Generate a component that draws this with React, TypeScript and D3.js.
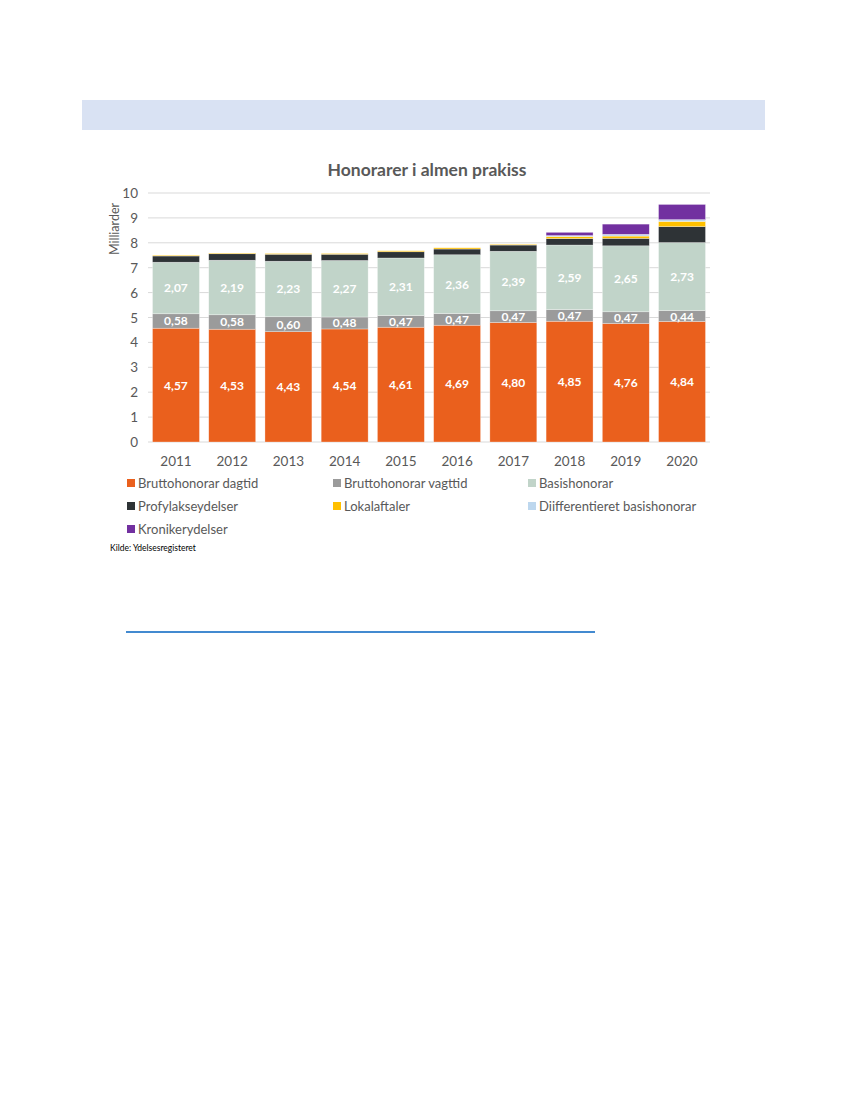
import * as d3 from 'd3'

const years = ['2011', '2012', '2013', '2014', '2015', '2016', '2017', '2018', '2019', '2020']

const dagtid = [4.57, 4.53, 4.43, 4.54, 4.61, 4.69, 4.8, 4.85, 4.76, 4.84]
const vagttid = [0.58, 0.58, 0.6, 0.48, 0.47, 0.47, 0.47, 0.47, 0.47, 0.44]
const basis = [2.07, 2.19, 2.23, 2.27, 2.31, 2.36, 2.39, 2.59, 2.65, 2.73]
const profylakse = [0.25, 0.26, 0.28, 0.25, 0.25, 0.23, 0.25, 0.26, 0.3, 0.64]
const lokalaftaler = [0.03, 0.03, 0.03, 0.03, 0.04, 0.05, 0.03, 0.08, 0.09, 0.21]
const differentieret = [0, 0, 0, 0, 0, 0, 0, 0.04, 0.07, 0.07]
const kroniker = [0, 0, 0, 0, 0, 0, 0, 0.13, 0.41, 0.61]

const yTicks = [0, 1, 2, 3, 4, 5, 6, 7, 8, 9, 10]

const series = [
  { key: 'dagtid', name: 'Bruttohonorar dagtid', values: dagtid, color: '#EA601D', label: true },
  { key: 'vagttid', name: 'Bruttohonorar vagttid', values: vagttid, color: '#9B9B9B', label: true },
  { key: 'basis', name: 'Basishonorar', values: basis, color: '#C1D4C9', label: true },
  { key: 'profylakse', name: 'Profylakseydelser', values: profylakse, color: '#2E3336', label: false },
  { key: 'lokal', name: 'Lokalaftaler', values: lokalaftaler, color: '#FFC000', label: false },
  { key: 'diff', name: 'Diifferentieret basishonorar', values: differentieret, color: '#BDD7EE', label: false },
  { key: 'kroniker', name: 'Kronikerydelser', values: kroniker, color: '#7230A0', label: false },
]

const fmt = (v: number) => v.toFixed(2).replace('.', ',')

export default function App() {
  const width = 850
  const height = 1100
  const plot = { left: 148, right: 710, top: 193, bottom: 442 }

  const rows = years.map((year, i) => {
    const row: Record<string, number | string> = { year }
    series.forEach((s) => (row[s.key] = s.values[i]))
    return row
  })
  const stacked = d3.stack<Record<string, number | string>>().keys(series.map((s) => s.key))(rows as any)

  const x = d3.scaleBand().domain(years).range([plot.left, plot.right]).paddingInner(0.165).paddingOuter(0.08)
  const y = d3.scaleLinear().domain([0, 10]).range([plot.bottom, plot.top])

  const font = "Lato, 'Open Sans', sans-serif"
  const legendCols = [127, 333, 528]
  const legendRows = [483, 506, 529]

  return (
    <div style={{ position: 'absolute', left: 0, top: 0 }}>
      <svg width={width} height={height} style={{ display: 'block', background: '#fff' }} fontFamily={font}>
        <rect x={82} y={100} width={683} height={30} fill="#D9E2F3" />

        <text x={427} y={176} textAnchor="middle" fontSize={17.5} fontWeight={700} fill="#595959">
          Honorarer i almen prakiss
        </text>

        {yTicks.map((t) => (
          <g key={t}>
            <line x1={plot.left} x2={plot.right} y1={y(t)} y2={y(t)} stroke="#D9D9D9" strokeWidth={1} />
            <text x={138} y={y(t) + 5} textAnchor="end" fontSize={13.5} fill="#595959">
              {t}
            </text>
          </g>
        ))}

        <text transform={`translate(119,${229}) rotate(-90)`} textAnchor="middle" fontSize={12.5} fill="#595959">
          Milliarder
        </text>

        {stacked.map((layer, si) => (
          <g key={layer.key}>
            {layer.map((d, i) => {
              const h = y(d[0]) - y(d[1])
              if (h <= 0) return null
              return (
                <rect
                  key={years[i]}
                  x={x(years[i])}
                  y={y(d[1])}
                  width={x.bandwidth()}
                  height={h}
                  fill={series[si].color}
                  stroke="#ffffff"
                  strokeOpacity={0.5}
                  strokeWidth={0.6}
                />
              )
            })}
          </g>
        ))}

        {stacked.map((layer, si) =>
          series[si].label
            ? layer.map((d, i) => (
                <text
                  key={`${layer.key}-${years[i]}`}
                  x={(x(years[i]) ?? 0) + x.bandwidth() / 2}
                  y={y((d[0] + d[1]) / 2) + 4.5}
                  textAnchor="middle"
                  fontSize={12}
                  fontWeight={700}
                  fill="#ffffff"
                >
                  {fmt(series[si].values[i])}
                </text>
              ))
            : null,
        )}

        {years.map((yr) => (
          <text key={yr} x={(x(yr) ?? 0) + x.bandwidth() / 2} y={466} textAnchor="middle" fontSize={13.5} fill="#595959">
            {yr}
          </text>
        ))}

        {series.map((s, i) => {
          const cx = legendCols[i % 3]
          const cy = legendRows[Math.floor(i / 3)]
          return (
            <g key={s.key}>
              <rect x={cx} y={cy - 4} width={8} height={8} fill={s.color} />
              <text x={cx + 11} y={cy + 5} fontSize={13} fill="#595959">
                {s.name}
              </text>
            </g>
          )
        })}

        <text x={110} y={551} fontSize={8.5} fill="#000">
          Kilde: Ydelsesregisteret
        </text>

        <line x1={126} x2={595} y1={632} y2={632} stroke="#0563C1" strokeWidth={1.3} />
      </svg>
    </div>
  )
}
